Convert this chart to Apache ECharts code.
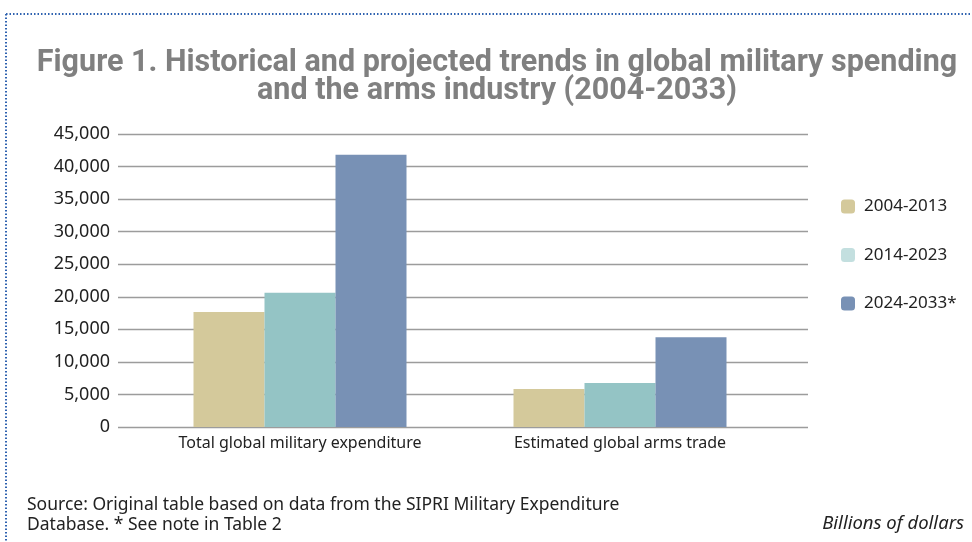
<!DOCTYPE html>
<html>
<head>
<meta charset="utf-8">
<script src="https://cdn.jsdelivr.net/npm/echarts@6/dist/echarts.min.js"></script>
<style>
  html, body { margin: 0; padding: 0; background: #fff; }
  #chart { width: 972px; height: 542px; }
</style>
</head>
<body>
<div id="chart"></div>
<script>
  var categories = ['Total global military expenditure', 'Estimated global arms trade'];
  var periods = ['2004-2013', '2014-2023', '2024-2033*'];
  var values2004 = [17650, 5850];
  var values2014 = [20600, 6750];
  var values2024 = [41800, 13800];
  var yTicks = [0, 5000, 10000, 15000, 20000, 25000, 30000, 35000, 40000, 45000];

  var barColors = ['#D4C99B', '#94C4C5', '#7891B5'];
  var legendColors = ['#D4C99B', '#C3DFDF', '#7891B5'];
  var font = '"Noto Sans", Roboto, sans-serif';

  var chart = echarts.init(document.getElementById('chart'), null, { renderer: 'canvas' });

  var seriesValues = [values2004, values2014, values2024];
  var series = periods.map(function(p, i) {
    return {
      name: p,
      type: 'bar',
      xAxisIndex: 1,
      yAxisIndex: 1,
      barWidth: 71,
      barGap: '0%',
      itemStyle: { color: barColors[i] },
      data: seriesValues[i]
    };
  });

  chart.setOption({
    animation: false,
    title: {
      text: 'Figure 1. Historical and projected trends in global military spending\nand the arms industry (2004-2033)',
      left: 492,
      top: 44,
      textAlign: 'center',
      textStyle: {
        fontFamily: 'Roboto, sans-serif',
        fontWeight: 'bold',
        fontSize: 30.5,
        lineHeight: 28,
        color: '#808080'
      }
    },
    legend: {
      orient: 'vertical',
      left: 836,
      top: 193,
      itemWidth: 14,
      itemHeight: 14,
      itemGap: 31.5,
      textStyle: { fontFamily: font, fontSize: 17, color: '#222', padding: [0, 0, 0, 4] },
      data: periods.map(function(p, i) {
        return { name: p, itemStyle: { color: legendColors[i] } };
      })
    },
    grid: [
      { left: 118, right: 164, top: 134, bottom: 115 },
      { left: 140, right: 192, top: 134, bottom: 115 }
    ],
    xAxis: [
      {
        gridIndex: 0, type: 'category', data: categories,
        axisLine: { show: false }, axisTick: { show: false }, axisLabel: { show: false }
      },
      {
        gridIndex: 1, type: 'category', data: categories,
        axisLine: { show: false }, axisTick: { show: false },
        axisLabel: { fontFamily: font, fontSize: 16, color: '#222', margin: 8 }
      }
    ],
    yAxis: [
      {
        gridIndex: 0, type: 'value', min: yTicks[0], max: yTicks[yTicks.length - 1], interval: 5000,
        axisLine: { show: false }, axisTick: { show: false },
        axisLabel: {
          fontFamily: font, fontSize: 18, color: '#222', margin: 8,
          formatter: function(v) { return v.toLocaleString('en-US'); }
        },
        splitLine: { lineStyle: { color: '#9c9c9c', width: 1.3 } }
      },
      {
        gridIndex: 1, type: 'value', min: yTicks[0], max: yTicks[yTicks.length - 1], interval: 5000,
        axisLine: { show: false }, axisTick: { show: false }, axisLabel: { show: false },
        splitLine: { show: false }
      }
    ],
    series: series,
    graphic: [
      {
        type: 'line', silent: true,
        shape: { x1: 6, y1: 14, x2: 972, y2: 14 },
        style: { stroke: '#2f62b0', lineWidth: 2, lineDash: [1.5, 2] }
      },
      {
        type: 'line', silent: true,
        shape: { x1: 6, y1: 14, x2: 6, y2: 542 },
        style: { stroke: '#2f62b0', lineWidth: 2, lineDash: [1.5, 2] }
      },
      {
        type: 'text', left: 27, top: 495,
        style: {
          text: 'Source: Original table based on data from the SIPRI Military Expenditure\nDatabase. * See note in Table 2',
          font: '17.5px ' + font, fill: '#222', lineHeight: 20
        }
      },
      {
        type: 'text', right: 8, top: 514,
        style: {
          text: 'Billions of dollars',
          font: 'italic 18.5px ' + font, fill: '#222'
        }
      }
    ]
  });
</script>
</body>
</html>
